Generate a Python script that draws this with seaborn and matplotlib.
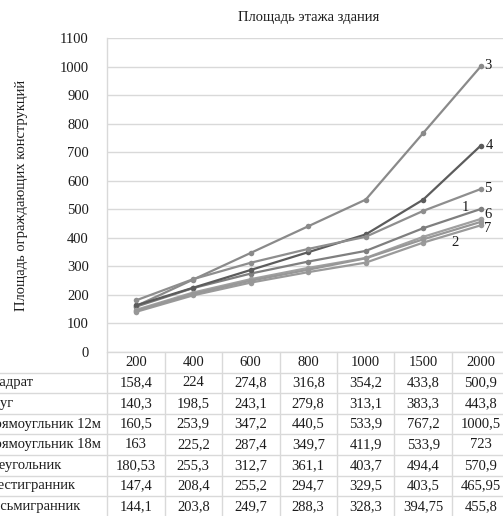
import numpy as np
import pandas as pd
import matplotlib
matplotlib.use("Agg")
import matplotlib.pyplot as plt
import seaborn as sns

x_labels = ["200", "400", "600", "800", "1000", "1500", "2000"]
series_names = ["Квадрат", "Круг", "Прямоугльник 12м", "Прямоугльник 18м",
                "Треугольник", "Шестигранник", "Восьмигранник"]
kvadrat = [158.4, 224, 274.8, 316.8, 354.2, 433.8, 500.9]
krug = [140.3, 198.5, 243.1, 279.8, 313.1, 383.3, 443.8]
pryam12 = [160.5, 253.9, 347.2, 440.5, 533.9, 767.2, 1000.5]
pryam18 = [163, 225.2, 287.4, 349.7, 411.9, 533.9, 723]
treug = [180.53, 255.3, 312.7, 361.1, 403.7, 494.4, 570.9]
shest = [147.4, 208.4, 255.2, 294.7, 329.5, 403.5, 465.95]
vosem = [144.1, 203.8, 249.7, 288.3, 328.3, 394.75, 455.8]
values = [kvadrat, krug, pryam12, pryam18, treug, shest, vosem]

title = "Площадь этажа здания"
ylabel = "Площадь ограждающих конструкций"

colors = ["#7f7f7f", "#9a9a9a", "#8a8a8a", "#5c5c5c", "#8e8e8e", "#a0a0a0", "#979797"]
# pixel offsets of the 1..7 labels from the last point of each series
label_offsets = [(-15, 2), (-26, -17), (7, 1), (9, 0), (7, 1), (7, 4), (7, -7)]

text_color = "#1c1c1c"
grid_color = "#d9d9d9"
fs = 10.5


def main():
    sns.set_style("white")
    plt.rcParams["font.family"] = ["Liberation Serif", "DejaVu Serif"]

    rows = []
    for name, vals in zip(series_names, values):
        for i, v in enumerate(vals):
            rows.append({"series": name, "pos": i, "value": v})
    df = pd.DataFrame(rows)

    W, H = 503, 516
    fig = plt.figure(figsize=(W / 100, H / 100), dpi=100)

    # plot area in pixels: left 107, top 38, bottom 352, column width 57.5
    col_w = 57.5
    left, top, bottom = 107, 38, 352
    ax = fig.add_axes([left / W, (H - bottom) / H, 7 * col_w / W, (bottom - top) / H])

    sns.lineplot(
        data=df, x="pos", y="value", hue="series", hue_order=series_names,
        palette=colors, marker="o", markersize=4, markeredgewidth=0,
        linewidth=1.6, legend=False, sort=False, ax=ax,
    )

    ax.set_xlim(-0.5, 6.5)
    ax.set_ylim(0, 1100)
    ax.set_yticks(np.arange(0, 1101, 100))
    ax.set_xticks([])
    ax.set_xlabel("")
    ax.set_ylabel("")
    ax.yaxis.grid(True, color=grid_color, linewidth=1)
    ax.set_axisbelow(True)
    ax.tick_params(axis="y", length=0, pad=13, labelsize=fs, labelcolor=text_color)
    for s in ["top", "right", "bottom"]:
        ax.spines[s].set_visible(False)
    ax.spines["left"].set_color(grid_color)
    ax.spines["left"].set_linewidth(1)

    # series numbers next to the lines
    for k, (vals, off) in enumerate(zip(values, label_offsets)):
        ax.annotate(str(k + 1), xy=(len(vals) - 1, vals[-1]), xytext=off,
                    textcoords="offset pixels", ha="center", va="center",
                    fontsize=fs, color=text_color, annotation_clip=False)

    fig.text((left + 3.5 * col_w) / W, 1 - 18 / H, title, ha="center", va="center",
             fontsize=fs, color=text_color)
    fig.text(22 / W, 1 - (top + bottom) / 2 / H, ylabel, rotation=90, ha="center",
             va="center", fontsize=fs, color=text_color)

    # data table under the plot (its left part is cut off, as in the source)
    row_h = 20.6
    n_rows = len(series_names) + 1
    tax = fig.add_axes([left / W, (H - bottom - n_rows * row_h) / H,
                        7 * col_w / W, n_rows * row_h / H])
    tax.set_xlim(-0.5, 6.5)
    tax.set_ylim(n_rows, 0)
    tax.axis("off")

    label_x = -0.5 - (left + 16) / col_w
    line_x0 = -0.5 - (left + 40) / col_w
    tax.plot([-0.5, 6.5], [0, 0], color=grid_color, lw=1, clip_on=False)
    for r in range(1, n_rows + 1):
        tax.plot([line_x0, 6.5], [r, r], color=grid_color, lw=1, clip_on=False)
    for c in range(8):
        tax.plot([c - 0.5, c - 0.5], [0, n_rows], color=grid_color, lw=1, clip_on=False)

    for c, lab in enumerate(x_labels):
        tax.text(c, 0.5, lab, ha="center", va="center", fontsize=fs, color=text_color)
    for r, (name, vals) in enumerate(zip(series_names, values)):
        tax.text(label_x, r + 1.5, name, ha="left", va="center", fontsize=fs,
                 color=text_color, clip_on=False)
        for c, v in enumerate(vals):
            tax.text(c, r + 1.5, f"{v:g}".replace(".", ","), ha="center",
                     va="center", fontsize=fs, color=text_color)

    fig.savefig("out.png", dpi=100)


if __name__ == "__main__":
    main()
